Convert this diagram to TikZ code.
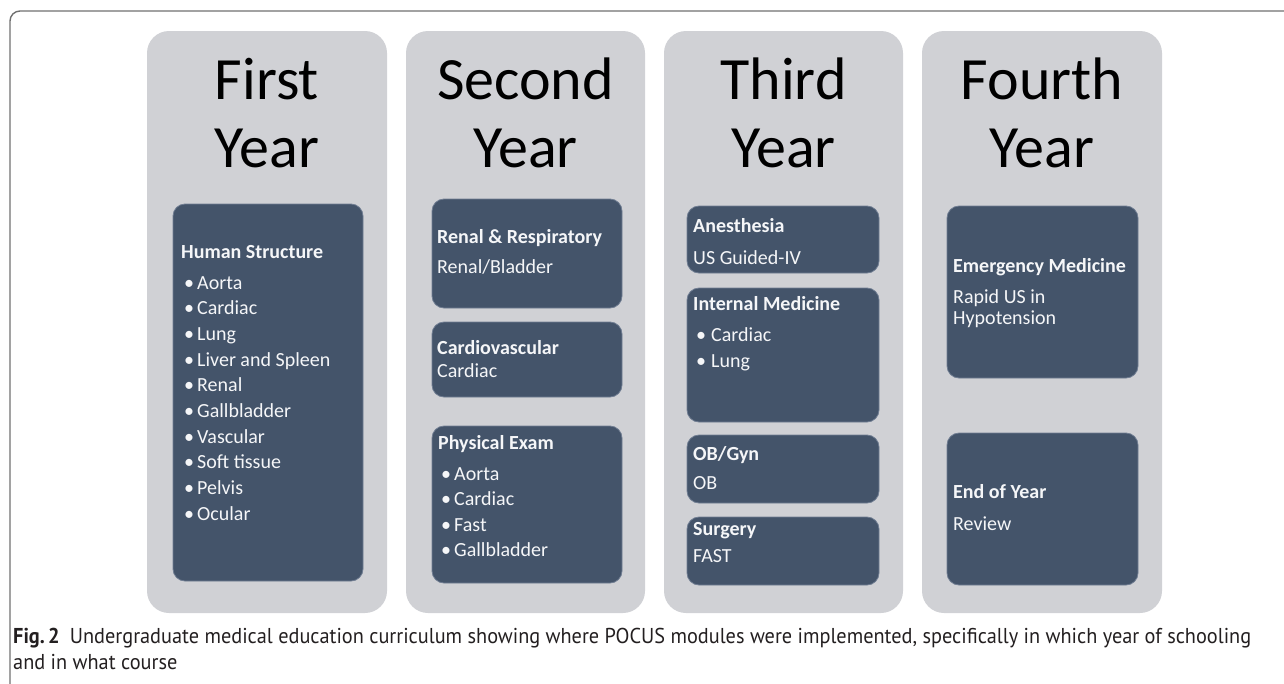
\documentclass[tikz,border=0pt]{standalone}
\usepackage{fontspec}
\usepackage{graphicx}
\setmainfont{Carlito}
\newfontfamily\capfont{PT Sans}
\usetikzlibrary{calc,fit}

\definecolor{colgray}{RGB}{208,209,213}
\definecolor{slate}{RGB}{68,84,106}
\definecolor{slateedge}{RGB}{112,125,146}
\definecolor{boxtext}{RGB}{245,246,248}
\definecolor{framegray}{RGB}{112,112,112}
\definecolor{captext}{RGB}{35,31,32}

\newcommand{\capone}{\textbf{Fig.\,2}\hspace{0.5em}Undergraduate medical education curriculum showing where POCUS modules were implemented, specifically in which year of schooling}
\newcommand{\captwo}{and in what course}
\newlength\capwidth
\settowidth\capwidth{\capfont\fontsize{21.5}{24}\selectfont\capone}

\begin{document}
\begin{tikzpicture}[
  x=1pt, y=-1pt,
  yearcol/.style={fill=colgray, draw=none, rounded corners=22pt, inner sep=0pt},
  course/.style={fill=slate, draw=slateedge, line width=0.8pt, rounded corners=12pt, inner sep=0pt},
  yeartitle/.style={font=\fontsize{60}{60}\selectfont, anchor=base, inner sep=0pt, text=black},
  hd/.style={font=\bfseries\fontsize{20}{24}\selectfont, anchor=base west, inner sep=0pt, text=boxtext},
  bd/.style={font=\fontsize{20}{24}\selectfont, anchor=base west, inner sep=0pt, text=boxtext},
  capt/.style={font=\capfont\fontsize{21.5}{24}\selectfont, anchor=base west, inner sep=0pt, text=captext},
]
\useasboundingbox (0,0) rectangle (1284,683);

% outer figure frame (open towards right and bottom)
\draw[framegray, line width=1.4pt, rounded corners=10pt] (10,690) -- (10,11) -- (1290,11);

% year columns
\node[yearcol, fit={(147,31) (387,613)}] (y1) {};
\node[yearcol, fit={(406,31) (645,613)}] (y2) {};
\node[yearcol, fit={(664,31) (903,613)}] (y3) {};
\node[yearcol, fit={(922,31) (1162,613)}] (y4) {};

% column titles
\node[yeartitle] (t1a) at (267,99) {First};
\node[yeartitle] (t1b) at (267,167) {Year};
\node[yeartitle] (t2a) at (525.5,99) {Second};
\node[yeartitle] (t2b) at (525.5,167) {Year};
\node[yeartitle] (t3a) at (783.5,99) {Third};
\node[yeartitle] (t3b) at (783.5,167) {Year};
\node[yeartitle] (t4a) at (1042,99) {Fourth};
\node[yeartitle] (t4b) at (1042,167) {Year};

% ---- first year
\node[course, fit={(173,204) (363,581)}] (c11) {};
\node[hd] (c11h) at (181,258) {Human Structure};
\foreach \item [count=\k from 0] in {Aorta,Cardiac,Lung,Liver and Spleen,Renal,Gallbladder,Vascular,Soft tissue,Pelvis,Ocular}{
  \node[bd] (c11i\k) at (184,{289+25.7*\k}) {\makebox[13pt][l]{•}\item};
}

% ---- second year
\node[course, fit={(432,199) (622,308)}] (c21) {};
\node[hd] (c21h) at (437,243) {Renal \& Respiratory};
\node[bd] (c21b) at (437,273) {Renal/Bladder};

\node[course, fit={(432,322) (622,397)}] (c22) {};
\node[hd] (c22h) at (437,354) {Cardiovascular};
\node[bd] (c22b) at (437,377) {Cardiac};

\node[course, fit={(432,426) (622,583)}] (c23) {};
\node[hd] (c23h) at (438,449) {Physical Exam};
\foreach \item [count=\k from 0] in {Aorta,Cardiac,Fast,Gallbladder}{
  \node[bd] (c23i\k) at (441,{480+25.6*\k}) {\makebox[13pt][l]{•}\item};
}

% ---- third year
\node[course, fit={(687,206) (879,273)}] (c31) {};
\node[hd] (c31h) at (693,232) {Anesthesia};
\node[bd] (c31b) at (693,264) {US Guided-IV};

\node[course, fit={(687,288) (879,422)}] (c32) {};
\node[hd] (c32h) at (693,310) {Internal Medicine};
\foreach \item [count=\k from 0] in {Cardiac,Lung}{
  \node[bd] (c32i\k) at (696,{341+26*\k}) {\makebox[15pt][l]{•}\item};
}

\node[course, fit={(687,435) (879,503)}] (c33) {};
\node[hd] (c33h) at (693,460) {OB/Gyn};
\node[bd] (c33b) at (693,489) {OB};

\node[course, fit={(687,517) (879,585)}] (c34) {};
\node[hd] (c34h) at (693,535) {Surgery};
\node[bd] (c34b) at (693,562) {FAST};

% ---- fourth year
\node[course, fit={(947,206) (1138,378)}] (c41) {};
\node[hd] (c41h) at (953,272) {Emergency Medicine};
\node[bd] (c41b) at (953,303) {Rapid US in};
\node[bd] (c41c) at (953,324) {Hypotension};

\node[course, fit={(947,433) (1138,585)}] (c42) {};
\node[hd] (c42h) at (953,498) {End of Year};
\node[bd] (c42b) at (953,530) {Review};

% caption, set condensed to the line length
\pgfmathsetmacro\capstretch{1238/\capwidth}
\node[capt] (cap1) at (13,643) {\scalebox{\capstretch}[1]{\capone}};
\node[capt] (cap2) at (13,669) {\scalebox{\capstretch}[1]{\captwo}};
\end{tikzpicture}
\end{document}
